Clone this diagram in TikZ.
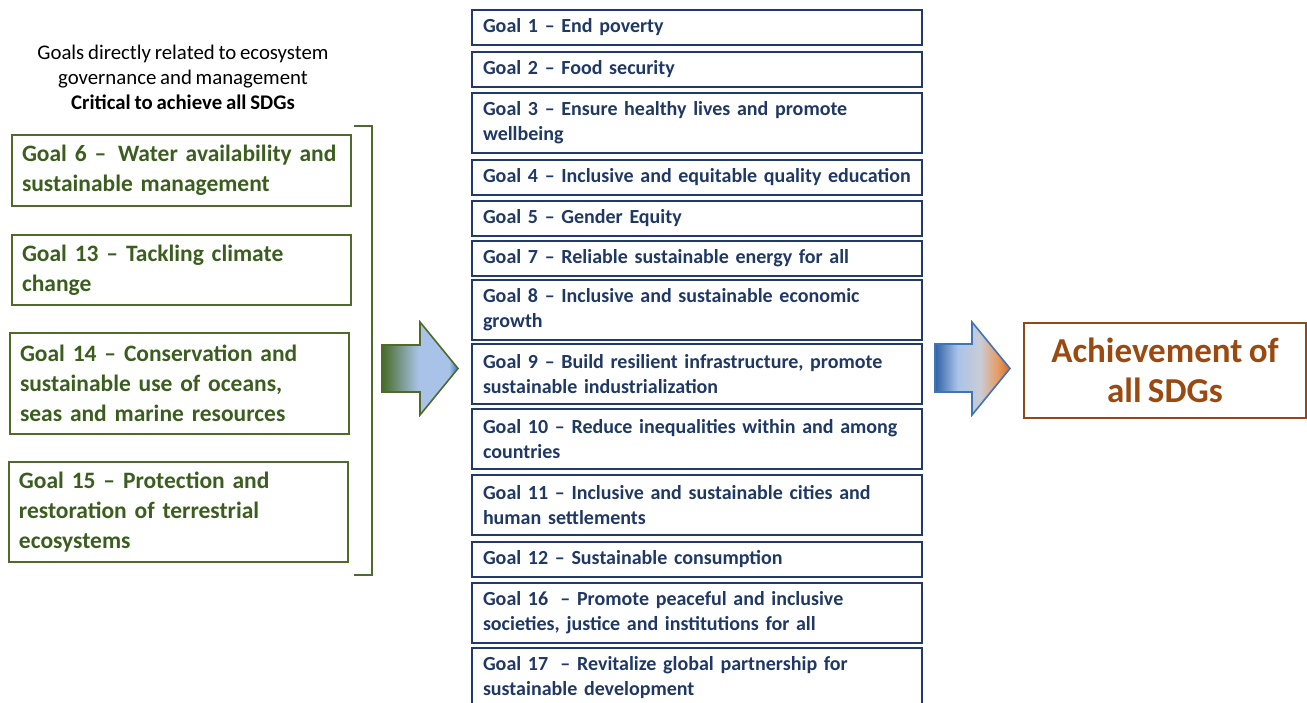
\documentclass[tikz,border=0pt]{standalone}
\usepackage{fontspec}
\setmainfont{Carlito}[WordSpace=0.8]
\definecolor{gtext}{HTML}{3B5E1F}
\definecolor{gborder}{HTML}{4F6A2A}
\definecolor{ntext}{HTML}{1F3864}
\definecolor{nborder}{HTML}{223A6A}
\definecolor{btext}{HTML}{9A4A10}
\definecolor{bborder}{HTML}{8E4A1A}
\definecolor{agreen}{HTML}{476A2A}
\definecolor{alblue}{HTML}{A9C3E8}
\definecolor{amblue}{HTML}{3F74B5}
\definecolor{adblue}{HTML}{2F62A6}
\definecolor{aorange}{HTML}{E89A62}
\definecolor{adorange}{HTML}{D06A28}
\definecolor{agrey}{HTML}{C9CCD6}
\pgfdeclarehorizontalshading{greenblue}{100bp}{color(0bp)=(agreen); color(25bp)=(agreen); color(49bp)=(alblue); color(69bp)=(alblue); color(75bp)=(amblue); color(100bp)=(amblue)}
\pgfdeclarehorizontalshading{blueorange}{100bp}{color(0bp)=(adblue); color(25bp)=(adblue); color(40bp)=(alblue); color(55bp)=(agrey); color(67bp)=(aorange); color(75bp)=(adorange); color(100bp)=(adorange)}
\begin{document}
\begin{tikzpicture}[x=1pt,y=-1pt,
  gbox/.style={draw=gborder, line width=2pt, rectangle, inner sep=0pt, align=left, text=gtext,
    font=\fontsize{23.5}{30}\selectfont\bfseries},
  nbox/.style={draw=nborder, line width=2pt, rectangle, inner sep=0pt, align=left, text=ntext,
    minimum width=450pt, text width=428pt, font=\fontsize{20}{25}\selectfont\bfseries},
  abox/.style={draw=bborder, line width=2pt, rectangle, inner sep=0pt, align=center, text=btext,
    font=\fontsize{35}{40}\selectfont\bfseries},
  bigarrow/.style={line width=1.6pt, line join=miter}
]
\useasboundingbox (0,0) rectangle (1307,703);

% heading
\node[align=center, font=\fontsize{20.8}{25}\selectfont, text=black] (head) at (183,77)
  {Goals directly related to ecosystem\\governance and management\\\textbf{Critical to achieve all SDGs}};

% left boxes
\node[gbox, minimum width=339pt, minimum height=71pt, text width=319pt] (g6) at (181.5,170.5)
  {Goal 6 -- \,Water availability and\\sustainable management};
\node[gbox, minimum width=339pt, minimum height=70pt, text width=319pt] (g13) at (181.5,270)
  {Goal 13 -- Tackling climate\\change};
\node[gbox, minimum width=339pt, minimum height=101pt, text width=319pt] (g14) at (179.5,383.5)
  {Goal 14 -- Conservation and\\sustainable use of oceans,\\seas and marine resources};
\node[gbox, minimum width=339pt, minimum height=100pt, text width=319pt] (g15) at (178.5,512)
  {Goal 15 -- Protection and\\restoration of terrestrial\\ecosystems};

% bracket
\coordinate (bt) at (354,126);
\coordinate (bb) at (354,575);
\draw[gborder, line width=2pt] (bt) -- ++(18,0) |- (bb);

% middle boxes
\node[nbox, minimum height=35pt] (m1) at (697,27.5) {Goal 1 -- End poverty};
\node[nbox, minimum height=35pt] (m2) at (697,69.5) {Goal 2 -- Food security};
\node[nbox, minimum height=60pt] (m3) at (697,123) {Goal 3 -- Ensure healthy lives and promote\\wellbeing};
\node[nbox, minimum height=35pt] (m4) at (697,177.5) {Goal 4 -- Inclusive and equitable quality education};
\node[nbox, minimum height=35pt] (m5) at (697,218.5) {Goal 5 -- Gender Equity};
\node[nbox, minimum height=35pt] (m7) at (697,258.5) {Goal 7 -- Reliable sustainable energy for all};
\node[nbox, minimum height=60pt] (m8) at (697,310) {Goal 8 -- Inclusive and sustainable economic\\growth};
\node[nbox, minimum height=60pt] (m9) at (697,374) {Goal 9 -- Build resilient infrastructure, promote\\sustainable industrialization};
\node[nbox, minimum height=60pt] (m10) at (697,439) {Goal 10 -- Reduce inequalities within and among\\countries};
\node[nbox, minimum height=60pt] (m11) at (697,505) {Goal 11 -- Inclusive and sustainable cities and\\human settlements};
\node[nbox, minimum height=35pt] (m12) at (697,559.5) {Goal 12 -- Sustainable consumption};
\node[nbox, minimum height=60pt] (m16) at (697,613) {Goal 16 \;-- Promote peaceful and inclusive\\societies, justice and institutions for all};
\node[nbox, minimum height=60pt] (m17) at (697,678) {Goal 17 \;-- Revitalize global partnership for\\sustainable development};

% result box
\node[abox, minimum width=282pt, minimum height=95pt] (ach) at (1165,370.5) {Achievement of\\all SDGs};

% big arrows
\path[bigarrow, draw=gborder, shading=greenblue]
  (382,345) -- (420,345) -- (420,322) -- (458,368.5) -- (420,415) -- (420,392) -- (382,392) -- cycle;
\path[bigarrow, draw=amblue, shading=blueorange]
  (935,344) -- (972,344) -- (972,322) -- (1010,368.5) -- (972,415) -- (972,392) -- (935,392) -- cycle;
\end{tikzpicture}
\end{document}
